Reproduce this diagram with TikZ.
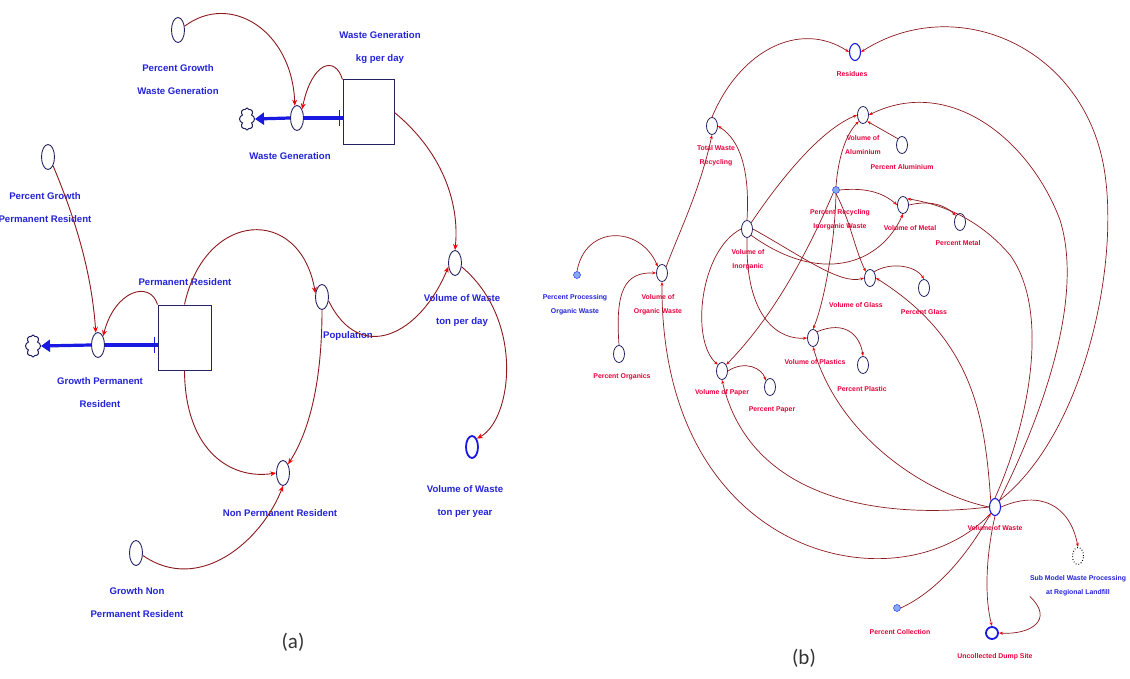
\documentclass[tikz,border=0pt]{standalone}
\usepackage{fontspec}
\setmainfont{Liberation Sans}
\newfontfamily\capfont{Carlito}
\usetikzlibrary{shapes.geometric,shapes.symbols,arrows.meta}
\definecolor{navy}{RGB}{35,35,100}
\definecolor{bluetxt}{RGB}{35,35,215}
\definecolor{redtxt}{RGB}{232,0,60}
\definecolor{conred}{RGB}{140,25,30}
\definecolor{pipeblue}{RGB}{25,25,225}
\definecolor{ghostblue}{RGB}{130,170,245}
\begin{document}
\begin{tikzpicture}[x=1pt,y=-1pt,
 aux/.style={ellipse,draw=navy,line width=0.9pt,minimum width=13pt,minimum height=25pt,inner sep=0pt},
 auxb/.style={ellipse,draw=navy,line width=0.8pt,minimum width=11pt,minimum height=17pt,inner sep=0pt},
 stock/.style={rectangle,draw=navy,line width=1pt,inner sep=0pt},
 cloudn/.style={cloud,cloud puffs=8,draw=navy,line width=1pt,minimum width=15pt,minimum height=22pt,inner sep=0pt,aspect=0.7},
 la/.style={text=bluetxt,font=\fontsize{9.6}{23}\selectfont\bfseries,align=center,inner sep=0pt},
 lb/.style={text=redtxt,font=\fontsize{6.9}{14}\selectfont\bfseries,align=center,inner sep=0pt},
 lbb/.style={lb,text=bluetxt},
 con/.style={draw=conred,line width=0.9pt,-{Stealth[length=6pt,width=5pt,color=red]}},
 conb/.style={draw=conred,line width=0.7pt,-{Stealth[length=4pt,width=3pt,color=red]}},
 pipe/.style={draw=pipeblue,line width=3.2pt},
 ghost/.style={circle,draw=pipeblue,fill=ghostblue,minimum size=7pt,inner sep=0pt},
 captxt/.style={font=\capfont\fontsize{21}{24}\selectfont,text=black!80,inner sep=0pt}
]
\useasboundingbox (0,0) rectangle (1130,679);
\clip (0,0) rectangle (1130,679);

% ================= (a) =================
\node[aux] (pgw) at (178,30) {};
\node[la] (pgwl) at (178,80) {Percent Growth\\Waste Generation};
\node[cloudn] (c1) at (247,119) {};
\node[aux] (vw) at (297,118) {};
\node[la] (vwl) at (290,156) {Waste Generation};
\node[stock,minimum width=51pt,minimum height=65pt] (wgs) at (368.5,112.5) {};
\node[la] (wgsl) at (380,48) {Waste Generation\\kg per day};

\node[aux] (pgp) at (48,157) {};
\node[la] (pgpl) at (45,208) {Percent Growth\\Permanent Resident};
\node[cloudn] (c2) at (33,346) {};
\node[aux] (vp) at (98,345) {};
\node[la] (vpl) at (100,393) {Growth Permanent\\Resident};
\node[stock,minimum width=53pt,minimum height=65pt] (prs) at (184.5,337.5) {};
\node[la] (prsl) at (185,282) {Permanent Resident};

\node[aux] (pop) at (322,297) {};
\node[la] (popl) at (348,336) {Population};
\node[aux] (vwd) at (455,263) {};
\node[la] (vwdl) at (462,311) {Volume of Waste\\ton per day};
\node[aux,draw=pipeblue,line width=1.8pt,minimum width=12pt,minimum height=22pt] (vwy) at (472,447) {};
\node[la] (vwyl) at (465,502) {Volume of Waste\\ton per year};
\node[aux] (npr) at (283,473) {};
\node[la] (nprl) at (280,513) {Non Permanent Resident};
\node[aux] (gnp) at (136,553) {};
\node[la] (gnpl) at (137,603) {Growth Non\\Permanent Resident};
\node[captxt] (capa) at (293,642) {(a)};

% flows
\draw[pipe] (vw.east) -- (vw.east -| wgs.west);
\draw[pipe,-{Triangle[length=9pt,width=12pt]}] (vw.west) -- (c1.east);
\draw[pipeblue,line width=1pt] (vw.east -| wgs.west)++(-3,-8) -- ++(0,16);
\draw[pipe] (vp.east) -- (vp.east -| prs.west);
\draw[pipe,-{Triangle[length=9pt,width=12pt]}] (vp.west) -- (c2.east);
\draw[pipeblue,line width=1pt] (vp.east -| prs.west)++(-3,-8) -- ++(0,16);

% connectors (a)
\draw[con] (pgw.30) .. controls (230,-8) and (292,30) .. (vw.100);
\draw[con] (wgs.north west) .. controls (335,55) and (312,62) .. (vw.60);
\draw[con] (wgs.east) .. controls (440,150) and (460,200) .. (vwd.north);
\draw[con] (pgp.-60) .. controls (80,230) and (92,280) .. (vp.100);
\draw[con] (prs.north west) .. controls (150,280) and (115,290) .. (vp.60);
\draw[con] (prs.north) .. controls (205,210) and (300,205) .. (pop.150);
\draw[con] (prs.south) .. controls (185,450) and (230,480) .. (npr.west);
\draw[con] (pop.south) .. controls (322,380) and (310,430) .. (npr.60);
\draw[con] (gnp.-20) .. controls (200,595) and (262,540) .. (npr.south);
\draw[con] (pop.-30) .. controls (360,365) and (420,335) .. (vwd.210);
\draw[con] (vwd.-30) .. controls (525,320) and (512,420) .. (vwy.60);

% ================= (b) =================
\node[auxb,draw=pipeblue,line width=1.1pt] (res) at (855,52) {};
\node[lb] (resl) at (852,74) {Residues};
\node[auxb] (twr) at (712,126) {};
\node[lb] (twrl) at (716,156) {Total Waste\\Recycling};
\node[auxb] (val) at (863,115) {};
\node[lb] (vall) at (863,145) {Volume of\\Aluminium};
\node[auxb] (pal) at (902,145) {};
\node[lb] (pall) at (902,167) {Percent Aluminium};
\node[ghost] (pri) at (836,190) {};
\node[lb] (pril) at (840,220) {Percent Recycling\\Inorganic Waste};
\node[auxb] (vme) at (903,205) {};
\node[lb] (vmel) at (910,228) {Volume of Metal};
\node[auxb] (pme) at (960,222) {};
\node[lb] (pmel) at (958,243) {Percent Metal};
\node[auxb] (vin) at (747,229) {};
\node[lb] (vinl) at (748,260) {Volume of\\Inorganic};
\node[auxb] (vow) at (662,273) {};
\node[lb] (vowl) at (658,305) {Volume of\\Organic Waste};
\node[ghost] (ppo) at (577,275) {};
\node[lbb] (ppol) at (575,305) {Percent Processing\\Organic Waste};
\node[auxb] (por) at (619,354) {};
\node[lb] (porl) at (622,377) {Percent Organics};
\node[auxb] (vgl) at (870,278) {};
\node[lb] (vgll) at (856,305) {Volume of Glass};
\node[auxb] (pgl) at (924,288) {};
\node[lb] (pgll) at (924,312) {Percent Glass};
\node[auxb] (vpl) at (813,338) {};
\node[lb] (vpll) at (815,362) {Volume of Plastics};
\node[auxb] (ppl) at (863,365) {};
\node[lb] (ppll) at (862,389) {Percent Plastic};
\node[auxb] (vpa) at (722,371) {};
\node[lb] (vpal) at (722,393) {Volume of Paper};
\node[auxb] (ppa) at (770,387) {};
\node[lb] (ppal) at (772,410) {Percent Paper};
\node[auxb,draw=pipeblue,line width=1.1pt] (vwa) at (995,507) {};
\node[lb] (vwal) at (995,528) {Volume of Waste};
\node[auxb,draw=black,dotted,line width=1pt] (sub) at (1078,556) {};
\node[lbb] (subl) at (1078,586) {Sub Model Waste Processing\\at Regional Landfill};
\node[ghost] (pco) at (897,608) {};
\node[lb] (pcol) at (900,632) {Percent Collection};
\node[circle,draw=pipeblue,line width=1.8pt,minimum width=12pt,inner sep=0pt] (uds) at (992,633) {};
\node[lb] (udsl) at (995,657) {Uncollected Dump Site};
\node[captxt] (capb) at (804,658) {(b)};

% connectors (b)
\draw[conb] (twr.north) .. controls (740,50) and (800,20) .. (res.west);
\draw[conb] (vwa.north east) .. controls (1090,430) and (1125,240) .. (1100,150) .. controls (1070,40) and (950,-5) .. (res.east);
\draw[conb] (vwa.north east) .. controls (1040,420) and (1085,300) .. (1060,220) .. controls (1030,140) and (950,75) .. (val.east);
\draw[conb] (vwa.north) .. controls (1030,420) and (1050,310) .. (1010,255) .. controls (980,220) and (945,205) .. (vme.north east);
\draw[conb] (vwa.north west) .. controls (985,420) and (975,340) .. (vgl.east);
\draw[conb] (vwa.west) .. controls (930,495) and (840,440) .. (vpl.south);
\draw[conb] (vwa.west) .. controls (880,520) and (750,500) .. (vpa.south);
\draw[conb] (vwa.south west) .. controls (900,610) and (660,560) .. (vow.south);
\draw[conb] (pco.east) .. controls (940,590) and (970,550) .. (vwa.south west);
\draw[conb] (vwa.south) .. controls (985,560) and (985,600) .. (uds.north);
\draw[conb] (vwa.east) .. controls (1040,490) and (1070,505) .. (sub.north);
\draw[conb] (subl.south west) .. controls (1055,620) and (1030,635) .. (uds.east);

\draw[conb] (vin.north east) .. controls (780,180) and (820,130) .. (val.west);
\draw[conb] (vin.north) .. controls (750,170) and (740,140) .. (twr.east);
\draw[conb] (vow.north east) .. controls (680,230) and (700,190) .. (twr.south);
\draw[conb] (ppo.north) .. controls (585,225) and (640,225) .. (vow.north west);
\draw[conb] (por.north) .. controls (615,290) and (625,272) .. (vow.west);
\draw[conb] (pri.north) .. controls (838,160) and (845,135) .. (val.south west);
\draw[conb] (pal.north west) -- (val.south east);
\draw[conb] (pri.east) .. controls (860,188) and (880,190) .. (vme.west);
\draw[conb] (pri.south) .. controls (850,220) and (855,250) .. (vgl.north west);
\draw[conb] (pri.south) .. controls (835,240) and (825,300) .. (vpl.north);
\draw[conb] (pri.south west) .. controls (815,235) and (780,310) .. (vpa.north east);
\draw[conb] (vin.west) .. controls (700,250) and (690,340) .. (vpa.north west);
\draw[conb] (vin.south) .. controls (745,320) and (780,340) .. (vpl.west);
\draw[conb] (vin.east) .. controls (800,255) and (840,285) .. (vgl.west);
\draw[conb] (vin.south east) .. controls (820,285) and (880,265) .. (vme.south);
\draw[conb] (vgl.north east) .. controls (890,262) and (915,265) .. (pgl.north);
\draw[conb] (vpl.north east) .. controls (845,320) and (860,335) .. (ppl.north);
\draw[conb] (vpa.east) .. controls (745,360) and (762,368) .. (ppa.north west);
\draw[conb] (vme.east) .. controls (930,200) and (945,205) .. (pme.north west);
\end{tikzpicture}
\end{document}
